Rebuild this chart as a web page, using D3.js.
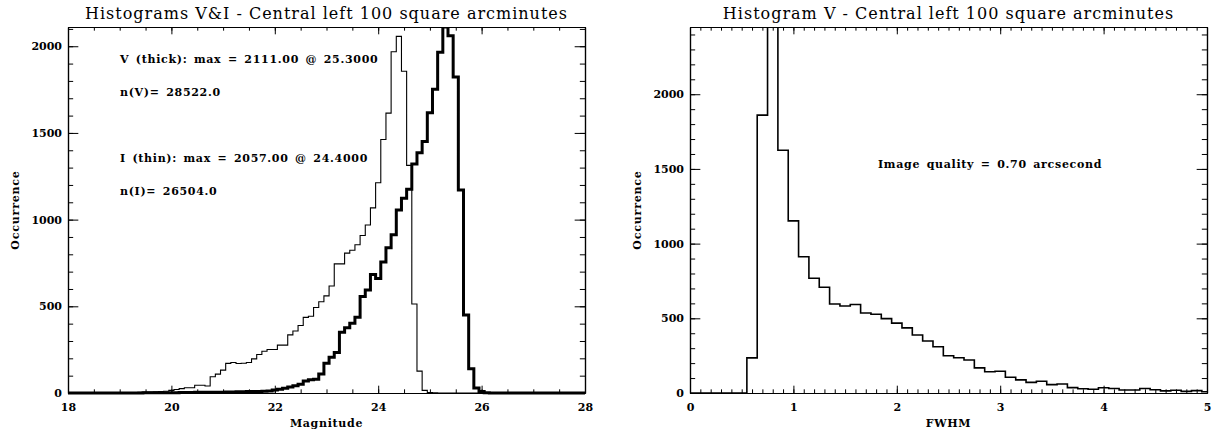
<!DOCTYPE html>
<html><head><meta charset="utf-8">
<script src="https://cdn.jsdelivr.net/npm/d3@7"></script>
<style>body{margin:0;background:#fff}svg{display:block}</style>
</head><body>
<script>
// ---------- DATA ----------
// Left panel: magnitude bin centres (0.1 mag bins, 18.0 .. 28.0)
const magCenters = d3.range(180, 281).map(d => d / 10);
const magBinWidth = 0.1;
// I band (thin line) counts per bin
const countsI = [
  0,0,0,0,0,0,0,0,1,1,
  2,2,3,3,4,5,6,7,8,10,
  15,20,25,30,30,45,45,40,94,109,
  132,171,176,170,172,176,197,222,241,251,
  251,276,276,335,358,389,436,443,493,526,
  560,617,745,745,807,823,855,908,969,1068,
  1213,1462,1614,1968,2057,1856,1313,513,126,15,
  3,1,0,0,0,0,0,0,0,0,
  0,0,0,0,0,0,0,0,0,0,
  0,0,0,0,0,0,0,0,0,0,
  0
];
// V band (thick line) counts per bin
const countsV = [
  0,0,0,0,0,0,0,0,0,0,
  0,0,0,0,0,1,1,1,2,2,
  2,2,3,3,3,4,4,4,5,5,
  5,6,6,7,7,8,8,9,10,12,
  17,22,27,35,42,50,69,76,80,110,
  171,206,233,350,377,402,437,556,594,684,
  661,755,838,913,1055,1123,1175,1321,1386,1450,
  1617,1752,1965,2111,2060,1822,1171,450,140,29,
  8,2,0,0,0,0,0,0,0,0,
  0,0,0,0,0,0,0,0,0,0,
  0
];
// Right panel: FWHM bin centres (0.1 arcsec bins, 0.0 .. 5.0)
const fwhmCenters = d3.range(0, 51).map(d => d / 10);
const fwhmBinWidth = 0.1;
const countsFWHM = [
  0,0,0,0,0,0,235,1860,2900,1625,
  1152,912,768,708,596,582,592,536,527,498,
  468,436,388,348,310,249,236,221,168,142,
  146,105,88,71,79,56,60,36,28,25,
  35,30,20,20,30,22,14,18,11,16,
  8
];
// Axis ranges and ticks
const magDomain = [18, 28];
const magTicks = [18, 20, 22, 24, 26, 28];
const magMinor = d3.range(18, 28.001, 0.5);
const leftYDomain = [0, 2111];
const leftYTicks = [0, 500, 1000, 1500, 2000];
const leftYMinor = d3.range(0, 2111, 100);
const fwhmDomain = [0, 5];
const fwhmTicks = [0, 1, 2, 3, 4, 5];
const fwhmMinor = d3.range(0, 5.001, 0.1);
const rightYDomain = [0, 2450];
const rightYTicks = [0, 500, 1000, 1500, 2000];
const rightYMinor = d3.range(0, 2450, 100);
// Texts
const titleLeft = "Histograms V&I - Central left 100 square arcminutes";
const titleRight = "Histogram V - Central left 100 square arcminutes";
const xTitleLeft = "Magnitude", xTitleRight = "FWHM", yTitle = "Occurrence";
const notesLeft = ["V (thick): max = 2111.00 @ 25.3000", "n(V)= 28522.0",
                   "I (thin): max = 2057.00 @ 24.4000", "n(I)= 26504.0"];
const noteRight = "Image quality = 0.70 arcsecond";

// ---------- DRAW ----------
const W = 1213, H = 434;
const svg = d3.select("body").append("svg").attr("width", W).attr("height", H);
const SERIF = "'DejaVu Serif', serif";

function panel(o) {
  const x = d3.scaleLinear().domain(o.xDomain).range([o.x0, o.x1]);
  const y = d3.scaleLinear().domain(o.yDomain).range([o.y1, o.y0]);
  const g = svg.append("g");
  const clipId = "clip" + o.id;
  svg.append("clipPath").attr("id", clipId).append("rect")
    .attr("x", o.x0).attr("y", o.y0).attr("width", o.x1 - o.x0).attr("height", o.y1 - o.y0 + 3);

  // histograms
  o.series.forEach(s => {
    const pts = [];
    s.centers.forEach((c, i) => pts.push([c - s.w / 2, s.values[i]]));
    const last = s.centers.length - 1;
    pts.push([s.centers[last] + s.w / 2, s.values[last]]);
    const line = d3.line().x(d => x(d[0])).y(d => y(d[1])).curve(d3.curveStepAfter);
    g.append("path").attr("d", line(pts)).attr("fill", "none")
      .attr("stroke", "#000").attr("stroke-width", s.sw)
      .attr("stroke-linejoin", "miter").attr("clip-path", `url(#${clipId})`);
  });

  const hx = o.y1 - o.y0, wy = o.x1 - o.x0;
  const majX = 0.02 * hx, majY = 0.02 * wy;
  const style = sel => {
    sel.select(".domain").attr("stroke", "#000").attr("stroke-width", 1.2);
    sel.selectAll(".tick line").attr("stroke", "#000").attr("stroke-width", 1);
    sel.selectAll("text").attr("font-family", SERIF).attr("font-weight", "bold")
      .attr("font-size", 11).attr("fill", "#000");
    sel.attr("font-family", null);
  };
  // bottom
  g.append("g").attr("transform", `translate(0,${o.y1})`)
    .call(d3.axisBottom(x).tickValues(o.xTicks).tickSize(-majX).tickSizeOuter(0).tickPadding(10)
      .tickFormat(d3.format("d"))).call(style);
  g.append("g").attr("transform", `translate(0,${o.y1})`)
    .call(d3.axisBottom(x).tickValues(o.xMinor).tickSize(-majX / 2).tickSizeOuter(0).tickFormat("")).call(style);
  // top
  g.append("g").attr("transform", `translate(0,${o.y0})`)
    .call(d3.axisTop(x).tickValues(o.xTicks).tickSize(-majX).tickSizeOuter(0).tickFormat("")).call(style);
  g.append("g").attr("transform", `translate(0,${o.y0})`)
    .call(d3.axisTop(x).tickValues(o.xMinor).tickSize(-majX / 2).tickSizeOuter(0).tickFormat("")).call(style);
  // left
  g.append("g").attr("transform", `translate(${o.x0},0)`)
    .call(d3.axisLeft(y).tickValues(o.yTicks).tickSize(-majY).tickSizeOuter(0).tickPadding(6)
      .tickFormat(d3.format("d"))).call(style);
  g.append("g").attr("transform", `translate(${o.x0},0)`)
    .call(d3.axisLeft(y).tickValues(o.yMinor).tickSize(-majY / 2).tickSizeOuter(0).tickFormat("")).call(style);
  // right
  g.append("g").attr("transform", `translate(${o.x1},0)`)
    .call(d3.axisRight(y).tickValues(o.yTicks).tickSize(-majY).tickSizeOuter(0).tickFormat("")).call(style);
  g.append("g").attr("transform", `translate(${o.x1},0)`)
    .call(d3.axisRight(y).tickValues(o.yMinor).tickSize(-majY / 2).tickSizeOuter(0).tickFormat("")).call(style);

  // titles
  const cx = (o.x0 + o.x1) / 2;
  svg.append("text").attr("x", cx).attr("y", 18.5).attr("text-anchor", "middle")
    .attr("font-family", SERIF).attr("font-size", 16).attr("letter-spacing", 1).text(o.title);
  svg.append("text").attr("x", cx).attr("y", 427).attr("text-anchor", "middle")
    .attr("font-family", SERIF).attr("font-weight", "bold").attr("font-size", 11)
    .attr("letter-spacing", 0.7).text(o.xTitle);
  svg.append("text").attr("transform", `translate(${o.yTitleX},${(o.y0 + o.y1) / 2}) rotate(-90)`)
    .attr("text-anchor", "middle").attr("font-family", SERIF).attr("font-weight", "bold")
    .attr("font-size", 11).attr("letter-spacing", 0.8).text(yTitle);
  o.notes.forEach(n => {
    svg.append("text").attr("x", n.x).attr("y", n.y).attr("font-family", SERIF)
      .attr("font-weight", "bold").attr("font-size", 11)
      .attr("letter-spacing", 0.7).attr("word-spacing", 2).text(n.t);
  });
}

panel({
  id: "L", x0: 68, x1: 585, y0: 27, y1: 393,
  xDomain: magDomain, yDomain: leftYDomain,
  xTicks: magTicks, xMinor: magMinor, yTicks: leftYTicks, yMinor: leftYMinor,
  series: [
    { centers: magCenters, values: countsI, w: magBinWidth, sw: 1.1 },
    { centers: magCenters, values: countsV, w: magBinWidth, sw: 3 }
  ],
  title: titleLeft, xTitle: xTitleLeft, yTitleX: 19,
  notes: [
    { x: 120, y: 62.5, t: notesLeft[0] },
    { x: 120, y: 95.7, t: notesLeft[1] },
    { x: 120, y: 161.7, t: notesLeft[2] },
    { x: 120, y: 195, t: notesLeft[3] }
  ]
});

panel({
  id: "R", x0: 690, x1: 1207, y0: 27, y1: 393,
  xDomain: fwhmDomain, yDomain: rightYDomain,
  xTicks: fwhmTicks, xMinor: fwhmMinor, yTicks: rightYTicks, yMinor: rightYMinor,
  series: [
    { centers: fwhmCenters, values: countsFWHM, w: fwhmBinWidth, sw: 1.6 }
  ],
  title: titleRight, xTitle: xTitleRight, yTitleX: 641,
  notes: [{ x: 878, y: 168, t: noteRight }]
});
</script>
</body></html>
